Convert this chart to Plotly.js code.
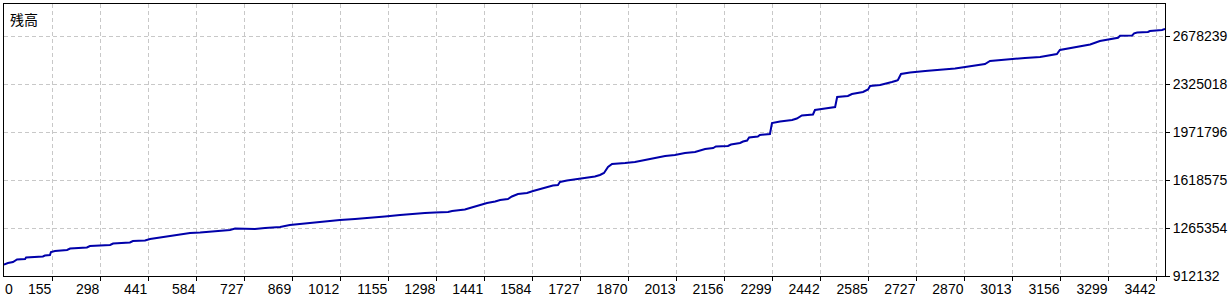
<!DOCTYPE html>
<html>
<head>
<meta charset="utf-8">
<script src="https://cdn.plot.ly/plotly-3.0.1.min.js"></script>
<style>
html,body{margin:0;padding:0;background:#fff;}
#chart{width:1230px;height:300px;}
</style>
</head>
<body>
<div id="chart"></div>
<script>
// Trade number (x) and balance (y)
const trades = [11,23,38,44,50,74,77,127,133,148,151,163,199,208,258,267,327,336,386,395,431,446,476,505,535,565,595,639,684,699,729,758,788,833,862,892,922,967,1011,1056,1101,1145,1190,1220,1264,1294,1309,1333,1345,1368,1383,1398,1413,1428,1449,1473,1488,1511,1523,1541,1568,1586,1607,1630,1645,1660,1666,1687,1711,1741,1770,1785,1797,1809,1821,1860,1889,1919,1949,1979,2008,2038,2068,2098,2122,2130,2166,2175,2202,2211,2223,2229,2255,2261,2291,2297,2321,2357,2371,2386,2419,2425,2455,2485,2491,2523,2535,2568,2583,2589,2619,2633,2654,2669,2672,2681,2708,2753,2797,2842,2872,2901,2931,2946,2976,3006,3050,3095,3125,3145,3154,3184,3214,3244,3273,3294,3327,3333,3369,3375,3384,3416,3422,3458,3467];
const balance = [996758,1007797,1015155,1026194,1033552,1037232,1048270,1055629,1062988,1066667,1088743,1096102,1103461,1114499,1121858,1132896,1140255,1151293,1158652,1169690,1173370,1184408,1195446,1206484,1221202,1228561,1232240,1243278,1250637,1261675,1261675,1257996,1265355,1272713,1287431,1294790,1302149,1316866,1324225,1331584,1338943,1349981,1361019,1368378,1375737,1379416,1379416,1383095,1390454,1394134,1401492,1412531,1423569,1434607,1449325,1460363,1471401,1478760,1497157,1515554,1522913,1537630,1552348,1567065,1578104,1581783,1603859,1614898,1622256,1633295,1644333,1655371,1670089,1714241,1736318,1743677,1751035,1765753,1780471,1795188,1802547,1817265,1824623,1846700,1854059,1865097,1868776,1879814,1890853,1901891,1909250,1931326,1938685,1949723,1957082,2038029,2049067,2060105,2071143,2093220,2100578,2133693,2144731,2155769,2229357,2236716,2251434,2266151,2284548,2310304,2317663,2328701,2339739,2350778,2354457,2398610,2409648,2420686,2428045,2439083,2450121,2461160,2472198,2494274,2501633,2508992,2516351,2523709,2538427,2545786,2575221,2589939,2604656,2615694,2641450,2652488,2665734,2680452,2681922,2698113,2704000,2707679,2715038,2722397,2729756];

const xTickVals = [155,298,441,584,727,869,1012,1155,1298,1441,1584,1727,1870,2013,2156,2299,2442,2585,2727,2870,3013,3156,3299,3442];
const xTickText = xTickVals.map(String);
const firstLabelPos = [39];
const firstLabelText = ['0'];
const yTickVals = [912132,1265354,1618575,1971796,2325018,2678239];
const yTickText = yTickVals.map(String);
const xRange = [11.25, 3466.8];
const yRange = [912132, 2913726];

const tickFont = {family: 'Liberation Sans, Arial, sans-serif', size: 14, color: '#000'};

const data = [
  {x: trades, y: balance, type: 'scatter', mode: 'lines',
   line: {color: '#0000aa', width: 2}, hoverinfo: 'skip', showlegend: false},
  {x: firstLabelPos, y: [null], type: 'scatter', mode: 'lines', xaxis: 'x2',
   hoverinfo: 'skip', showlegend: false}
];

const layout = {
  width: 1230, height: 300,
  margin: {l: 4, r: 65, t: 4, b: 24},
  paper_bgcolor: '#fff', plot_bgcolor: '#fff',
  showlegend: false,
  xaxis: {
    range: xRange, tickmode: 'array', tickvals: xTickVals, ticktext: xTickText,
    ticks: 'outside', ticklen: 4, tickcolor: '#000', tickwidth: 1,
    ticklabelposition: 'outside left',
    showgrid: true, gridcolor: '#c8c8c8', griddash: '4px,3px', gridwidth: 1,
    showline: true, linecolor: '#000', linewidth: 1, mirror: true,
    zeroline: false, tickfont: tickFont, fixedrange: true
  },
  xaxis2: {
    overlaying: 'x', range: xRange, side: 'bottom',
    tickmode: 'array', tickvals: firstLabelPos, ticktext: firstLabelText,
    ticks: 'outside', ticklen: 4, tickcolor: 'rgba(0,0,0,0)',
    ticklabelposition: 'outside left',
    showgrid: false, showline: false, zeroline: false, tickfont: tickFont
  },
  yaxis: {
    range: yRange, side: 'right', tickmode: 'array', tickvals: yTickVals, ticktext: yTickText,
    ticks: 'outside', ticklen: 4, tickcolor: '#000', tickwidth: 1,
    showgrid: true, gridcolor: '#c8c8c8', griddash: '4px,3px', gridwidth: 1,
    showline: true, linecolor: '#000', linewidth: 1, mirror: true,
    zeroline: false, tickfont: tickFont, fixedrange: true
  },
  annotations: [{
    text: '残高', xref: 'paper', yref: 'paper', x: 0, y: 1,
    xanchor: 'left', yanchor: 'top', xshift: 4, yshift: -3, showarrow: false,
    font: {family: 'Noto Sans CJK JP, sans-serif', size: 14, color: '#000'}
  }]
};

Plotly.newPlot('chart', data, layout, {displayModeBar: false, staticPlot: true});
</script>
</body>
</html>
